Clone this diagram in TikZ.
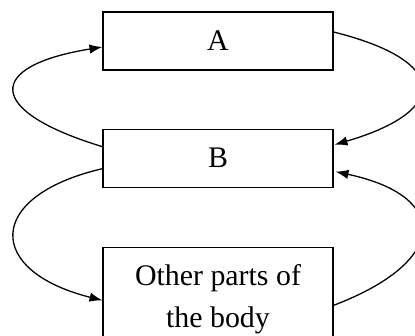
\documentclass[tikz,border=0pt]{standalone}
\usepackage{fontspec}
\setmainfont{Liberation Serif}
\usetikzlibrary{positioning,calc,arrows.meta}
\tikzset{
    partBox/.style={
        rectangle,
        draw,
        line width=1pt,
        minimum width=6.9cm,
        minimum height=1.74cm,
        inner sep=2pt,
        align=center,
        font=\fontsize{25.5}{36}\selectfont
    },
    % Arrows
    flowArrow/.style={-{Latex[length=11pt,width=8pt]}, line width=1.1pt}
}
\begin{document}
\begin{tikzpicture}[x=0.03cm, y=0.03cm]
\useasboundingbox (0,0) rectangle (415,336);
\clip (0,0) rectangle (415,336);
\node[partBox] (a) at (218,295) {A};
\node[partBox, below=1.74cm of a] (b) {B};
\node[partBox, minimum height=3.12cm, below=1.77cm of b] (body) {Other parts of\\the body};
% B -> A (left loop)
\draw[flowArrow] ($(b.west)+(0,11.5)$) .. controls (-15,225) and (-15,270) .. ($(a.west)+(0,-6)$);
% A -> B (right loop)
\draw[flowArrow] ($(a.east)+(0,9)$) .. controls (450,275) and (450,225) .. ($(b.east)+(1,13.5)$);
% B -> other parts (left loop)
\draw[flowArrow] ($(b.west)+(0,-10.5)$) .. controls (-15,140) and (-15,65) .. ($(body.west)+(0,-1)$);
% other parts -> B (right loop)
\draw[flowArrow] ($(body.east)+(0,-6)$) .. controls (450,75) and (450,140) .. ($(b.east)+(2,-13.5)$);
\end{tikzpicture}
\end{document}
